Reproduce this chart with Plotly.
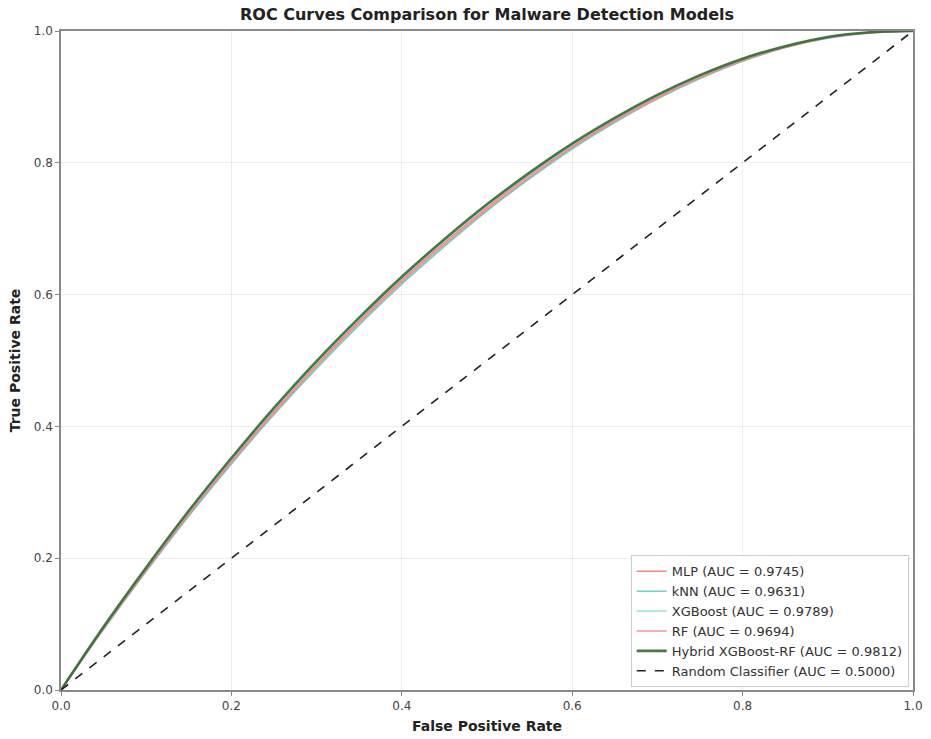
import plotly.graph_objects as go

fpr = [0.0, 0.05, 0.10, 0.15, 0.20, 0.25, 0.30, 0.35, 0.40, 0.45, 0.50,
       0.55, 0.60, 0.65, 0.70, 0.75, 0.80, 0.85, 0.90, 0.95, 1.0]

tpr_mlp = [0.0, 0.094, 0.183, 0.268, 0.348, 0.423, 0.494, 0.560, 0.622, 0.679, 0.732,
           0.781, 0.825, 0.865, 0.900, 0.931, 0.956, 0.976, 0.990, 0.998, 1.0]
tpr_knn = [0.0, 0.092, 0.180, 0.264, 0.343, 0.418, 0.488, 0.554, 0.616, 0.673, 0.727,
           0.776, 0.821, 0.861, 0.897, 0.928, 0.954, 0.975, 0.989, 0.997, 1.0]
tpr_xgb = [0.0, 0.095, 0.185, 0.270, 0.350, 0.426, 0.497, 0.563, 0.625, 0.682, 0.735,
           0.783, 0.827, 0.867, 0.902, 0.932, 0.957, 0.977, 0.991, 0.998, 1.0]
tpr_rf = [0.0, 0.093, 0.181, 0.266, 0.345, 0.420, 0.491, 0.557, 0.619, 0.676, 0.729,
          0.778, 0.823, 0.863, 0.898, 0.929, 0.955, 0.975, 0.990, 0.997, 1.0]
tpr_hybrid = [0.0, 0.096, 0.186, 0.272, 0.352, 0.428, 0.499, 0.565, 0.627, 0.684, 0.737,
              0.785, 0.829, 0.868, 0.903, 0.933, 0.958, 0.977, 0.991, 0.998, 1.0]

random_x = [0.0, 1.0]
random_y = [0.0, 1.0]

names = ["MLP (AUC = 0.9745)", "kNN (AUC = 0.9631)", "XGBoost (AUC = 0.9789)",
         "RF (AUC = 0.9694)", "Hybrid XGBoost-RF (AUC = 0.9812)"]
series = [tpr_mlp, tpr_knn, tpr_xgb, tpr_rf, tpr_hybrid]
colors = ["rgba(255,107,107,0.85)", "rgba(78,205,196,0.85)", "rgba(149,225,211,0.85)",
          "rgba(243,129,129,0.85)", "rgba(45,110,45,0.9)"]
widths = [1.6, 1.6, 1.6, 1.6, 2.6]

fig = go.Figure()
for n, y, c, w in zip(names, series, colors, widths):
    fig.add_trace(go.Scatter(x=fpr, y=y, mode="lines", name=n,
                             line=dict(color=c, width=w, shape="spline")))
fig.add_trace(go.Scatter(x=random_x, y=random_y, mode="lines",
                         name="Random Classifier (AUC = 0.5000)",
                         line=dict(color="#222222", width=1.6, dash="dash")))

axis_common = dict(range=[0, 1], dtick=0.2, tickformat=".1f", automargin=False,
                   showgrid=True, gridcolor="rgba(0,0,0,0.07)", gridwidth=1,
                   showline=True, linecolor="#8a8a8a", linewidth=1.5, mirror=True,
                   ticks="outside", ticklen=4, tickcolor="#8a8a8a",
                   tickfont=dict(size=12, color="#444444"), zeroline=False)

fig.update_layout(
    width=931, height=739,
    margin=dict(l=61, r=18, t=31, b=49, autoexpand=False),
    paper_bgcolor="white", plot_bgcolor="white",
    font=dict(family="DejaVu Sans", color="#222222"),
    title=dict(text="<b>ROC Curves Comparison for Malware Detection Models</b>",
               x=487 / 931, xanchor="center",
               y=1 - 14 / 739, yanchor="middle", font=dict(size=16, color="#222222")),
    xaxis=dict(axis_common, title=dict(text="<b>False Positive Rate</b>",
                                        font=dict(size=14), standoff=9)),
    yaxis=dict(axis_common, title=dict(text="<b>True Positive Rate</b>",
                                        font=dict(size=14), standoff=10)),
    legend=dict(x=0.995, y=0.004, xanchor="right", yanchor="bottom",
                bgcolor="rgba(255,255,255,0.9)", bordercolor="#cccccc", borderwidth=1,
                font=dict(size=13, color="#333333"), tracegroupgap=0, itemwidth=30),
)

fig.write_html("out.html")
